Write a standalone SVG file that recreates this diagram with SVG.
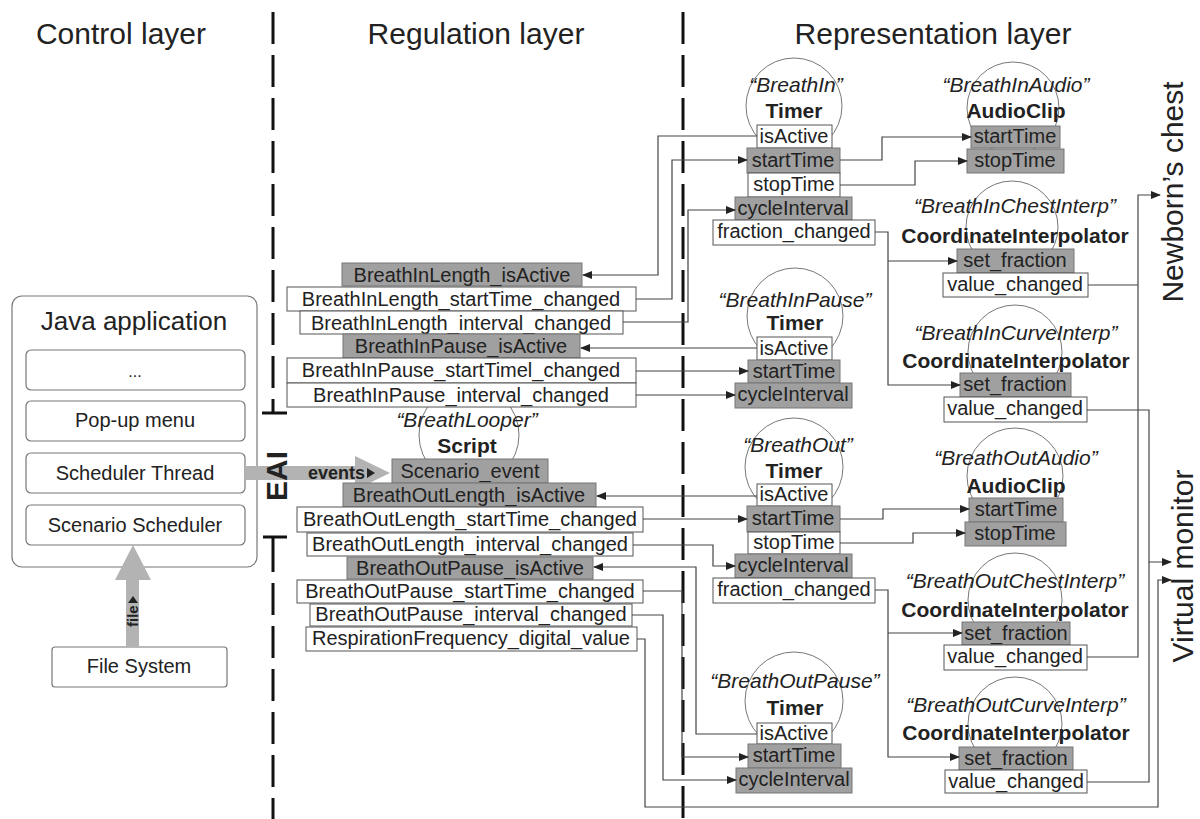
<svg xmlns="http://www.w3.org/2000/svg" width="1200" height="819" viewBox="0 0 1200 819">
<defs>
<marker id="ar" markerUnits="userSpaceOnUse" markerWidth="10" markerHeight="8" refX="9" refY="4" orient="auto">
<path d="M0,0 L10,4 L0,8 z" fill="#222"/>
</marker>
</defs>
<style>
text{font-family:"Liberation Sans",Arial,sans-serif;fill:#222}
.t{font-size:20px;text-anchor:middle}
.h{font-size:30px;text-anchor:middle}
.it{font-size:21px;font-style:italic;text-anchor:middle}
.bd{font-size:21px;font-weight:bold;text-anchor:middle}
.w{fill:#fff;stroke:#555;stroke-width:1}
.g{fill:#a0a0a0;stroke:#777;stroke-width:1}
.ci{fill:#fff;stroke:#777;stroke-width:1}
.rb{fill:#fff;stroke:#777;stroke-width:1.2}
.c path{fill:none;stroke:#444;stroke-width:1.2}
.dash{stroke:#111;stroke-width:3;stroke-dasharray:32 11;fill:none}
.ga{fill:#b3b3b3}
</style>
<rect width="1200" height="819" fill="#fff"/>

<g id="layers">
<text class="h" x="121" y="44">Control layer</text>
<text class="h" x="476" y="44">Regulation layer</text>
<text class="h" x="933" y="44">Representation layer</text>
<path class="dash" d="M273,12 V405"/>
<path d="M273,405 V413 M262,413 H287 M263,537 H287 M273,537 V572" stroke="#111" stroke-width="3" fill="none"/>
<path class="dash" d="M273,583 V819"/>
<path class="dash" d="M683,12 V819"/>
</g>

<g id="java-app">
<rect class="rb" x="12" y="296" width="245" height="271" rx="10"/>
<text x="134" y="330" style="font-size:26px;text-anchor:middle">Java application</text>
<rect class="rb" x="26" y="350" width="219" height="40" rx="5"/>
<text class="t" x="135" y="377" style="font-size:16px">...</text>
<rect class="rb" x="26" y="401" width="219" height="40" rx="5"/>
<text class="t" x="135" y="427">Pop-up menu</text>
<rect class="rb" x="26" y="453" width="219" height="40" rx="5"/>
<text class="t" x="135" y="480">Scheduler Thread</text>
<rect class="rb" x="26" y="505" width="219" height="40" rx="5"/>
<text class="t" x="135" y="532">Scenario Scheduler</text>
</g>

<g id="file-system">
<rect class="rb" x="52" y="647" width="175" height="40" rx="3"/>
<text class="t" x="139" y="673">File System</text>
</g>

<g id="file-arrow">
<polygon class="ga" points="126,647 126,580 115,580 133,545 151,580 139,580 139,647"/>
<text transform="translate(138,627) rotate(-90)" style="font-size:15px;font-weight:bold">file</text>
<polygon points="128,603 138,603 133,596" fill="#222"/>
</g>

<g id="events-arrow">
<polygon class="ga" points="245,466 355,466 355,456 390,473 355,490 355,480 245,480"/>
<text x="365" y="479" style="font-size:18px;font-weight:bold;text-anchor:end">events</text>
<polygon points="367,468 367,478 375,473" fill="#222"/>
</g>

<g id="eai">
<text transform="translate(287,476) rotate(-90)" style="font-size:30px;font-weight:bold;text-anchor:middle">EAI</text>
</g>

<g id="breath-looper">
<circle class="ci" cx="469" cy="435" r="50"/>
<text class="it" x="467" y="427">“BreathLooper”</text>
<text class="bd" x="467" y="453">Script</text>
<rect class="g" x="392" y="459" width="156" height="24"/>
<text class="t" x="470" y="478">Scenario_event</text>
</g>

<g id="regulation-fields">
<rect class="g" x="342" y="263" width="240" height="23"/>
<text class="t" x="462" y="282">BreathInLength_isActive</text>
<rect class="w" x="287" y="287" width="349" height="24"/>
<text class="t" x="461" y="306">BreathInLength_startTime_changed</text>
<rect class="w" x="300" y="311" width="323" height="23"/>
<text class="t" x="461" y="330">BreathInLength_interval_changed</text>
<rect class="g" x="343" y="334" width="237" height="24"/>
<text class="t" x="461" y="353">BreathInPause_isActive</text>
<rect class="w" x="287" y="358" width="349" height="25"/>
<text class="t" x="461" y="377">BreathInPause_startTimel_changed</text>
<rect class="w" x="287" y="383" width="349" height="24"/>
<text class="t" x="461" y="402">BreathInPause_interval_changed</text>
</g>

<g id="regulation-fields-out">
<rect class="g" x="343" y="483" width="253" height="24"/>
<text class="t" x="469" y="502">BreathOutLength_isActive</text>
<rect class="w" x="297" y="507" width="346" height="25"/>
<text class="t" x="470" y="526">BreathOutLength_startTime_changed</text>
<rect class="w" x="307" y="533" width="326" height="23"/>
<text class="t" x="470" y="551">BreathOutLength_interval_changed</text>
<rect class="g" x="347" y="557" width="246" height="22"/>
<text class="t" x="470" y="575">BreathOutPause_isActive</text>
<rect class="w" x="297" y="580" width="346" height="23"/>
<text class="t" x="470" y="598">BreathOutPause_startTime_changed</text>
<rect class="w" x="310" y="604" width="322" height="22"/>
<text class="t" x="471" y="621">BreathOutPause_interval_changed</text>
<rect class="w" x="306" y="627" width="331" height="24"/>
<text class="t" x="471" y="645">RespirationFrequency_digital_value</text>
</g>

<g id="breathin-timer">
<circle class="ci" cx="794" cy="106" r="48"/>
<text class="it" x="796" y="92">“BreathIn”</text>
<text class="bd" x="794" y="118">Timer</text>
<rect class="w" x="757" y="125" width="75" height="23"/>
<text class="t" x="794" y="143">isActive</text>
<rect class="g" x="747" y="148" width="93" height="25"/>
<text class="t" x="793" y="167">startTime</text>
<rect class="w" x="748" y="173" width="92" height="24"/>
<text class="t" x="794" y="191">stopTime</text>
<rect class="g" x="735" y="197" width="117" height="23"/>
<text class="t" x="793" y="215">cycleInterval</text>
<rect class="w" x="713" y="220" width="162" height="25"/>
<text class="t" x="794" y="238">fraction_changed</text>
</g>

<g id="breathin-audio">
<circle class="ci" cx="1013" cy="108" r="46"/>
<text class="it" x="1016" y="92">“BreathInAudio”</text>
<text class="bd" x="1016" y="118">AudioClip</text>
<rect class="g" x="971" y="126" width="89" height="22"/>
<text class="t" x="1015" y="143">startTime</text>
<rect class="g" x="967" y="149" width="97" height="24"/>
<text class="t" x="1015" y="167">stopTime</text>
</g>

<g id="breathin-chest-interp">
<circle class="ci" cx="1012" cy="227" r="46"/>
<text class="it" x="1015" y="213">“BreathInChestInterp”</text>
<text class="bd" x="1015" y="243">CoordinateInterpolator</text>
<rect class="g" x="957" y="249" width="117" height="24"/>
<text class="t" x="1015" y="267">set_fraction</text>
<rect class="w" x="943" y="273" width="145" height="24"/>
<text class="t" x="1015" y="291">value_changed</text>
</g>

<g id="breathin-curve-interp">
<circle class="ci" cx="1015" cy="352" r="47"/>
<text class="it" x="1016" y="340">“BreathInCurveInterp”</text>
<text class="bd" x="1016" y="368">CoordinateInterpolator</text>
<rect class="g" x="960" y="373" width="111" height="24"/>
<text class="t" x="1015" y="391">set_fraction</text>
<rect class="w" x="944" y="397" width="143" height="25"/>
<text class="t" x="1015" y="415">value_changed</text>
</g>

<g id="breathinpause-timer">
<circle class="ci" cx="795" cy="316" r="48"/>
<text class="it" x="795" y="307">“BreathInPause”</text>
<text class="bd" x="795" y="330">Timer</text>
<rect class="w" x="757" y="337" width="75" height="23"/>
<text class="t" x="794" y="355">isActive</text>
<rect class="g" x="748" y="360" width="92" height="23"/>
<text class="t" x="794" y="378">startTime</text>
<rect class="g" x="735" y="383" width="117" height="25"/>
<text class="t" x="793" y="401">cycleInterval</text>
</g>

<g id="breathout-timer">
<circle class="ci" cx="794" cy="467" r="49"/>
<text class="it" x="798" y="452">“BreathOut”</text>
<text class="bd" x="794" y="478">Timer</text>
<rect class="w" x="757" y="484" width="75" height="22"/>
<text class="t" x="794" y="501">isActive</text>
<rect class="g" x="747" y="506" width="93" height="26"/>
<text class="t" x="793" y="525">startTime</text>
<rect class="w" x="748" y="532" width="92" height="22"/>
<text class="t" x="794" y="549">stopTime</text>
<rect class="g" x="735" y="554" width="117" height="24"/>
<text class="t" x="793" y="572">cycleInterval</text>
<rect class="w" x="713" y="578" width="162" height="25"/>
<text class="t" x="794" y="596">fraction_changed</text>
</g>

<g id="breathout-audio">
<circle class="ci" cx="1015" cy="476" r="48"/>
<text class="it" x="1016" y="465">“BreathOutAudio”</text>
<text class="bd" x="1016" y="493">AudioClip</text>
<rect class="g" x="969" y="498" width="94" height="24"/>
<text class="t" x="1016" y="516">startTime</text>
<rect class="g" x="965" y="522" width="101" height="24"/>
<text class="t" x="1015" y="540">stopTime</text>
</g>

<g id="breathout-chest-interp">
<circle class="ci" cx="1015" cy="600" r="47"/>
<text class="it" x="1015" y="588">“BreathOutChestInterp”</text>
<text class="bd" x="1015" y="617">CoordinateInterpolator</text>
<rect class="g" x="962" y="622" width="108" height="23"/>
<text class="t" x="1016" y="640">set_fraction</text>
<rect class="w" x="944" y="645" width="143" height="25"/>
<text class="t" x="1015" y="663">value_changed</text>
</g>

<g id="breathout-curve-interp">
<circle class="ci" cx="1015" cy="724" r="47"/>
<text class="it" x="1016" y="712">“BreathOutCurveInterp”</text>
<text class="bd" x="1016" y="740">CoordinateInterpolator</text>
<rect class="g" x="959" y="747" width="114" height="23"/>
<text class="t" x="1016" y="765">set_fraction</text>
<rect class="w" x="945" y="770" width="142" height="23"/>
<text class="t" x="1016" y="788">value_changed</text>
</g>

<g id="breathoutpause-timer">
<circle class="ci" cx="794" cy="701" r="49"/>
<text class="it" x="795" y="688">“BreathOutPause”</text>
<text class="bd" x="795" y="715">Timer</text>
<rect class="w" x="757" y="723" width="75" height="21"/>
<text class="t" x="794" y="740">isActive</text>
<rect class="g" x="748" y="744" width="93" height="24"/>
<text class="t" x="794" y="762">startTime</text>
<rect class="g" x="736" y="768" width="116" height="25"/>
<text class="t" x="794" y="786">cycleInterval</text>
</g>

<g id="outputs">
<text transform="translate(1183,192) rotate(-90)" style="font-size:30px;text-anchor:middle">Newborn’s chest</text>
<text transform="translate(1193,566) rotate(-90)" style="font-size:30px;text-anchor:middle">Virtual monitor</text>
</g>

<g id="connectors" class="c">
<path d="M757,136 H658 V275 H583" marker-end="url(#ar)"/>
<path d="M636,299 H672 V160 H747" marker-end="url(#ar)"/>
<path d="M623,322 H688 V210 H735" marker-end="url(#ar)"/>
<path d="M757,348 H581" marker-end="url(#ar)"/>
<path d="M636,371 H748" marker-end="url(#ar)"/>
<path d="M636,395 H735" marker-end="url(#ar)"/>
<path d="M840,160 H882 V137 H971" marker-end="url(#ar)"/>
<path d="M840,185 H915 V161 H967" marker-end="url(#ar)"/>
<path d="M875,232 H888 V385 H960" marker-end="url(#ar)"/>
<path d="M888,261 H957" marker-end="url(#ar)"/>
<path d="M1088,285 H1138"/>
<path d="M1087,657 H1138 V195 H1160" marker-end="url(#ar)"/>
<path d="M1087,410 H1149 V562 H1171" marker-end="url(#ar)"/>
<path d="M1087,782 H1149 V562"/>
<path d="M637,639 H645 V807 H1158 V580 H1171" marker-end="url(#ar)"/>
<path d="M632,615 H663 V780 H736" marker-end="url(#ar)"/>
<path d="M643,591 H682 V757 H748" marker-end="url(#ar)"/>
<path d="M757,734 H696 V567 H594" marker-end="url(#ar)"/>
<path d="M757,496 H597" marker-end="url(#ar)"/>
<path d="M643,519 H747" marker-end="url(#ar)"/>
<path d="M633,545 H713 V566 H735" marker-end="url(#ar)"/>
<path d="M840,519 H883 V509 H969" marker-end="url(#ar)"/>
<path d="M840,543 H913 V533 H965" marker-end="url(#ar)"/>
<path d="M875,590 H888 V757 H959" marker-end="url(#ar)"/>
<path d="M888,633 H962" marker-end="url(#ar)"/>
</g>
</svg>
